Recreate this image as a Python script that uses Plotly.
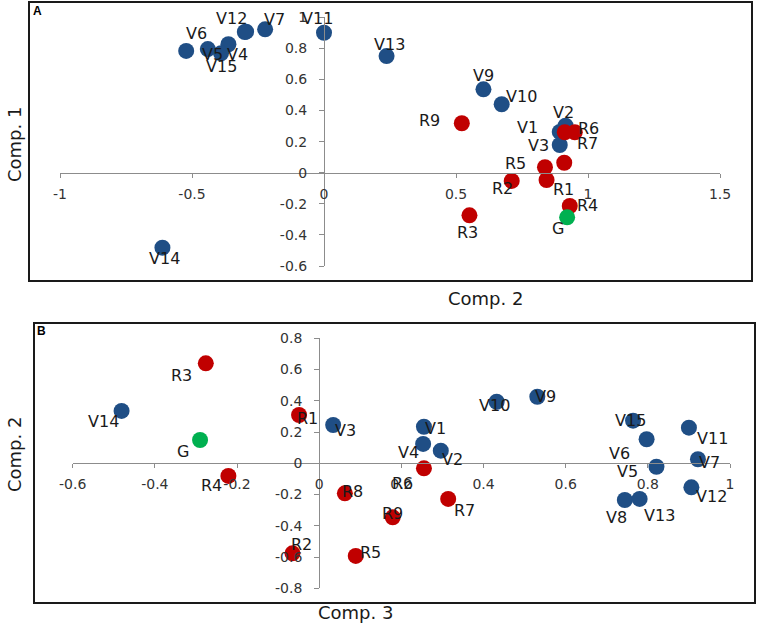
import plotly.graph_objects as go

# ---------------- data ----------------
v_names = ["V1", "V2", "V3", "V4", "V5", "V6", "V7", "V8", "V9", "V10",
           "V11", "V12", "V13", "V14", "V15"]
r_names = ["R1", "R2", "R3", "R4", "R5", "R6", "R7", "R8", "R9"]
g_names = ["G"]

# Panel A: x = Comp. 2, y = Comp. 1
a_v_comp2 = [0.893, 0.915, 0.893, -0.362, -0.44, -0.522, -0.223, -0.30, 0.604, 0.673,
             0.0, -0.295, 0.237, -0.612, -0.39]
a_v_comp1 = [0.262, 0.302, 0.178, 0.826, 0.795, 0.783, 0.922, 0.905, 0.536, 0.44,
             0.90, 0.907, 0.75, -0.482, 0.768]
a_r_comp2 = [0.843, 0.711, 0.551, 0.931, 0.837, 0.950, 0.912, 0.91, 0.522]
a_r_comp1 = [-0.047, -0.053, -0.274, -0.214, 0.035, 0.26, 0.26, 0.064, 0.318]
a_g_comp2 = [0.921]
a_g_comp1 = [-0.287]

# Panel B: x = Comp. 3, y = Comp. 2
b_v_comp3 = [0.255, 0.296, 0.034, 0.253, 0.821, 0.797, 0.922, 0.744, 0.531, 0.432,
             0.90, 0.906, 0.78, -0.481, 0.764]
b_v_comp2 = [0.234, 0.081, 0.245, 0.124, -0.022, 0.154, 0.026, -0.235, 0.426, 0.394,
             0.228, -0.154, -0.228, 0.335, 0.273]
b_r_comp3 = [-0.049, -0.065, -0.276, -0.221, 0.089, 0.255, 0.314, 0.0625, 0.179]
b_r_comp2 = [0.309, -0.576, 0.64, -0.081, -0.593, -0.032, -0.228, -0.192, -0.346]
b_g_comp3 = [-0.29]
b_g_comp2 = [0.149]

a_xticks = [-1, -0.5, 0, 0.5, 1, 1.5]
a_xticklabels = ["-1", "-0.5", "0", "0.5", "1", "1.5"]
a_yticks = [-0.6, -0.4, -0.2, 0, 0.2, 0.4, 0.6, 0.8, 1]
a_yticklabels = ["-0.6", "-0.4", "-0.2", "0", "0.2", "0.4", "0.6", "0.8", "1"]
b_xticks = [-0.6, -0.4, -0.2, 0, 0.2, 0.4, 0.6, 0.8, 1]
b_xticklabels = ["-0.6", "-0.4", "-0.2", "0", "0.2", "0.4", "0.6", "0.8", "1"]
b_yticks = [-0.8, -0.6, -0.4, -0.2, 0, 0.2, 0.4, 0.6, 0.8]
b_yticklabels = ["-0.8", "-0.6", "-0.4", "-0.2", "0", "0.2", "0.4", "0.6", "0.8"]

# ---------------- style ----------------
W, H = 758, 628
BLUE = "#1F4E85"
RED = "#C00000"
GREEN = "#00B050"
FONT = "DejaVu Sans"
MSIZE = 16

# label pixel offsets (dx right, dy down) relative to the marker
a_off = {
    "V1": (-32, -4), "V2": (-2, -13), "V3": (-21, 0), "V4": (9, 10), "V5": (5, 5),
    "V6": (10, -17), "V7": (9, -10), "V8": None, "V9": (0, -14), "V10": (20, -8),
    "V11": (-7, -14), "V12": (-15, -13), "V13": (3, -12), "V14": (2, 11), "V15": (0, 13),
    "R1": (17, 9), "R2": (-9, 8), "R3": (-2, 17), "R4": (18, 0), "R5": (-29, -4),
    "R6": (14, -4), "R7": (23, 11), "R8": None, "R9": (-32, -3), "G": (-9, 11),
}
b_off = {
    "V1": (12, 2), "V2": (12, 9), "V3": (12, 5), "V4": (-15, 9), "V5": (-29, 5),
    "V6": (-27, 14), "V7": (12, 3), "V8": (-8, 17), "V9": (8, 0), "V10": (-2, 4),
    "V11": (24, 11), "V12": (20, 9), "V13": (20, 17), "V14": (-18, 11), "V15": (-3, 0),
    "R1": (8, 3), "R2": (9, -9), "R3": (-24, 12), "R4": (-17, 10), "R5": (15, -3),
    "R6": (-21, 15), "R7": (16, 12), "R8": (8, -2), "R9": (0, -4), "G": (-17, 11),
}

# axis geometry (paper fractions)
a_xdom = [60 / W, 720 / W]
a_ydom = [1 - 266 / H, 1 - 17.2 / H]
a_xr = [-1, 1.5]
a_yr = [-0.6, 1]
b_xdom = [72.7 / W, 730 / W]
b_ydom = [1 - 588.3 / H, 1 - 338.3 / H]
b_xr = [-0.6, 1]
b_yr = [-0.8, 0.8]


def zero_pos(dom, rng):
    return dom[0] + (0 - rng[0]) / (rng[1] - rng[0]) * (dom[1] - dom[0])


fig = go.Figure()


def add_group(xs, ys, names, color, xa, ya, offs):
    fig.add_trace(go.Scatter(
        x=xs, y=ys, mode="markers", xaxis=xa, yaxis=ya,
        marker=dict(color=color, size=MSIZE, line=dict(width=0)),
        text=names, hoverinfo="text", showlegend=False, cliponaxis=False))
    for x, y, n in zip(xs, ys, names):
        o = offs.get(n)
        if o is None:
            continue
        fig.add_annotation(
            x=x, y=y, xref=xa, yref=ya, text=n, showarrow=False,
            xanchor="center", yanchor="middle", xshift=o[0], yshift=-o[1],
            font=dict(family=FONT, size=16, color="#1a1a1a"))


# Panel A
add_group(a_v_comp2, a_v_comp1, v_names, BLUE, "x", "y", a_off)
add_group(a_r_comp2, a_r_comp1, r_names, RED, "x", "y", a_off)
add_group(a_g_comp2, a_g_comp1, g_names, GREEN, "x", "y", a_off)
# Panel B
add_group(b_v_comp3, b_v_comp2, v_names, BLUE, "x2", "y2", b_off)
add_group(b_r_comp3, b_r_comp2, r_names, RED, "x2", "y2", b_off)
add_group(b_g_comp3, b_g_comp2, g_names, GREEN, "x2", "y2", b_off)

axis_common = dict(showgrid=False, zeroline=False, showline=True, linecolor="#8c8c8c",
                   linewidth=1, ticks="outside", tickcolor="#8c8c8c",
                   tickfont=dict(family=FONT, size=14, color="#333333"),
                   anchor="free", fixedrange=True, automargin=False)

fig.update_layout(
    width=W, height=H, margin=dict(l=0, r=0, t=0, b=0, pad=0, autoexpand=False),
    paper_bgcolor="white", plot_bgcolor="white",
    xaxis=dict(domain=a_xdom, range=a_xr, position=zero_pos(a_ydom, a_yr),
               tickvals=a_xticks, ticktext=a_xticklabels, ticklen=4,
               ticklabelstandoff=4, **axis_common),
    yaxis=dict(domain=a_ydom, range=a_yr, position=zero_pos(a_xdom, a_xr),
               tickvals=a_yticks, ticktext=a_yticklabels, ticklen=5,
               ticklabelstandoff=9, **axis_common),
    xaxis2=dict(domain=b_xdom, range=b_xr, position=zero_pos(b_ydom, b_yr),
                tickvals=b_xticks, ticktext=b_xticklabels, ticklen=4,
                ticklabelstandoff=4, **axis_common),
    yaxis2=dict(domain=b_ydom, range=b_yr, position=zero_pos(b_xdom, b_xr),
                tickvals=b_yticks, ticktext=b_yticklabels, ticklen=5,
                ticklabelstandoff=9, **axis_common),
)

# panel frames
fig.add_shape(type="rect", xref="paper", yref="paper",
              x0=29 / W, x1=752 / W, y0=1 - 281 / H, y1=1 - 2 / H,
              line=dict(color="#1a1a1a", width=2), layer="below")
fig.add_shape(type="rect", xref="paper", yref="paper",
              x0=34 / W, x1=755 / W, y0=1 - 603 / H, y1=1 - 323 / H,
              line=dict(color="#1a1a1a", width=2), layer="below")

# panel letters and axis titles
title_font = dict(family=FONT, size=18, color="#1a1a1a")
for txt, px, py in [("A", 37, 11), ("B", 41, 331)]:
    fig.add_annotation(x=px / W, y=1 - py / H, xref="paper", yref="paper", text=f"<b>{txt}</b>",
                       showarrow=False, xanchor="center", yanchor="middle",
                       font=dict(family="Liberation Sans", size=12, color="#000000"))
for txt, px, py, ang in [("Comp. 1", 14, 145, -90), ("Comp. 2", 485, 298, 0),
                         ("Comp. 2", 14, 455, -90), ("Comp. 3", 355, 612, 0)]:
    fig.add_annotation(x=px / W, y=1 - py / H, xref="paper", yref="paper", text=txt,
                       showarrow=False, xanchor="center", yanchor="middle",
                       textangle=ang, font=title_font)

fig.write_html(
    "out.html",
    config={"displayModeBar": False},
    post_script="document.body.style.margin='0';document.body.style.overflow='hidden';",
)
